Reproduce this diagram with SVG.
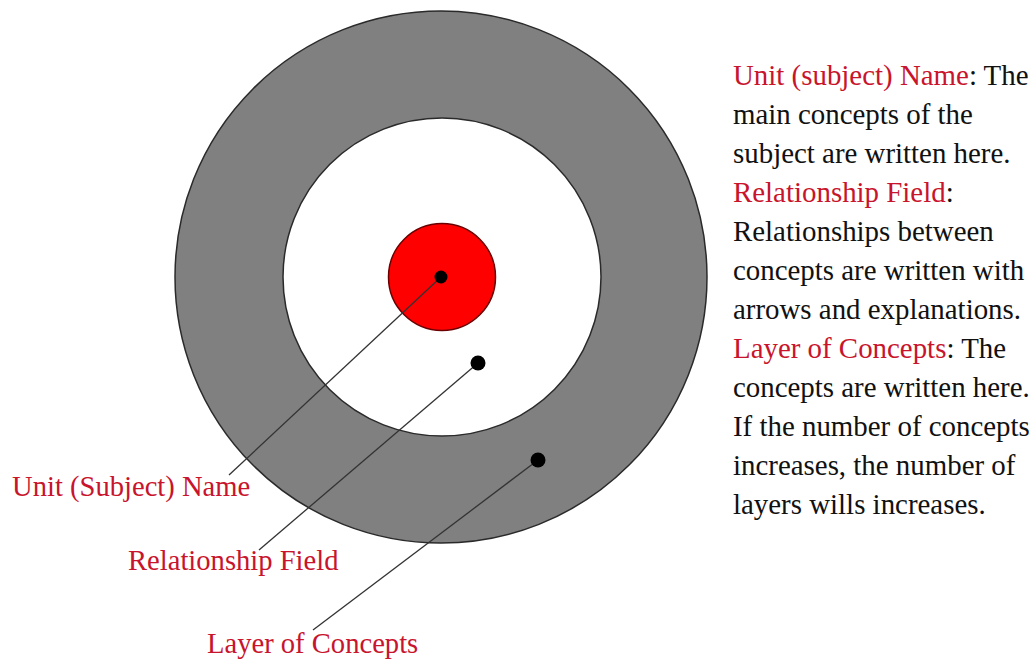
<svg xmlns="http://www.w3.org/2000/svg" width="1032" height="662" viewBox="0 0 1032 662">
<style>
.lbl{font-family:"Liberation Serif","Times New Roman",serif;font-size:28.6px;fill:#c8142c}
.txt{font-family:"Liberation Serif","Times New Roman",serif;font-size:28.9px;fill:#111}
.red{fill:#c8142c}
.lead{stroke:#333;stroke-width:1.3;fill:none}
.dot{fill:#000}
</style>
<rect width="1032" height="662" fill="#fff"/>
<g id="layer-of-concepts">
<circle cx="441" cy="277" r="266" fill="#808080" stroke="#2a2a2a" stroke-width="1.5"/>
</g>
<g id="relationship-field">
<circle cx="442" cy="277" r="159" fill="#fff" stroke="#2a2a2a" stroke-width="1.5"/>
</g>
<g id="unit-name">
<circle cx="442" cy="277" r="53.5" fill="#ff0000" stroke="#6a0000" stroke-width="1.5"/>
</g>
<g id="connectors">
<line class="lead" x1="441" y1="277" x2="229" y2="475"/>
<line class="lead" x1="478" y1="363" x2="259" y2="550"/>
<line class="lead" x1="538" y1="460" x2="313" y2="630"/>
<circle class="dot" cx="441" cy="277" r="6.5"/>
<circle class="dot" cx="478" cy="363" r="7.5"/>
<circle class="dot" cx="538" cy="460" r="7.5"/>
</g>
<g id="label-unit"><text class="lbl" x="12" y="496">Unit (Subject) Name</text></g>
<g id="label-relationship"><text class="lbl" x="128" y="570">Relationship Field</text></g>
<g id="label-layer"><text class="lbl" x="207" y="653">Layer of Concepts</text></g>
<g id="legend">
<text class="txt" x="733" y="85"><tspan class="red">Unit (subject) Name</tspan>: The</text>
<text class="txt" x="733" y="124">main concepts of the</text>
<text class="txt" x="733" y="163">subject are written here.</text>
<text class="txt" x="733" y="202"><tspan class="red">Relationship Field</tspan>:</text>
<text class="txt" x="733" y="241">Relationships between</text>
<text class="txt" x="733" y="280">concepts are written with</text>
<text class="txt" x="733" y="319">arrows and explanations.</text>
<text class="txt" x="733" y="358"><tspan class="red">Layer of Concepts</tspan>: The</text>
<text class="txt" x="733" y="397">concepts are written here.</text>
<text class="txt" x="733" y="436">If the number of concepts</text>
<text class="txt" x="733" y="475">increases, the number of</text>
<text class="txt" x="733" y="514">layers wills increases.</text>
</g>
</svg>
